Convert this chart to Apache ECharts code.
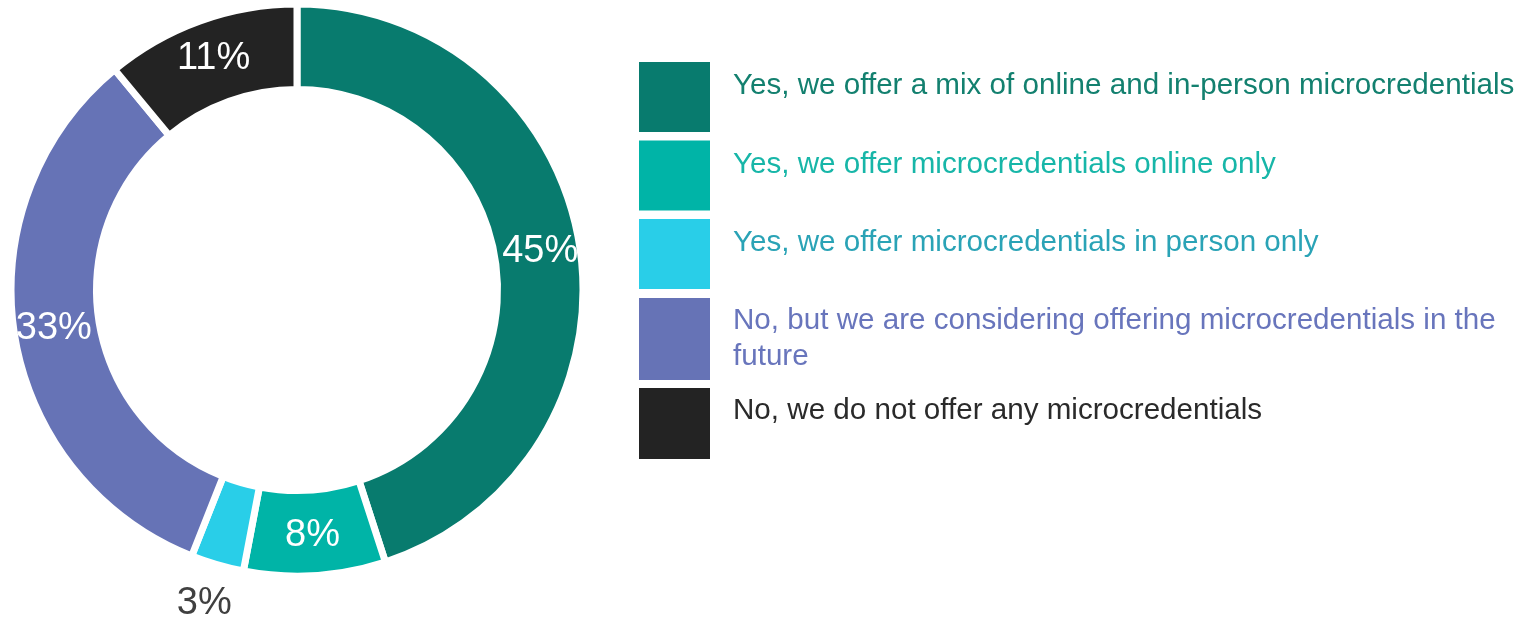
<!DOCTYPE html>
<html>
<head>
<meta charset="utf-8">
<style>
  html, body { margin: 0; padding: 0; background: #ffffff; }
  #chart { width: 1539px; height: 617px; }
</style>
<script src="https://cdn.jsdelivr.net/npm/echarts@6/dist/echarts.min.js"></script>
</head>
<body>
<div id="chart"></div>
<script>
const categories = [
  "Yes, we offer a mix of online and in-person microcredentials",
  "Yes, we offer microcredentials online only",
  "Yes, we offer microcredentials in person only",
  "No, but we are considering offering microcredentials in the future",
  "No, we do not offer any microcredentials"
];
const values = [45, 8, 3, 33, 11];
const sliceColors = ["#087b6e", "#00b4a7", "#29cee8", "#6673b6", "#232323"];
const textColors = ["#13806f", "#17b6a8", "#2aa3b6", "#6875bc", "#2a2a2a"];

const chart = echarts.init(document.getElementById('chart'));
const FONT = "'Liberation Sans', Arial, sans-serif";

function legendItems(idxs, lineH) {
  return idxs.map(i => ({
    name: categories[i],
    itemStyle: { color: sliceColors[i], borderWidth: 0 },
    textStyle: {
      color: textColors[i], fontSize: 29.6, fontFamily: FONT, lineHeight: lineH,
      padding: [0, 0, 0, 18]
    }
  }));
}

const baseLegend = {
  left: 639, orient: 'vertical', padding: 0, icon: 'rect',
  itemWidth: 71, selectedMode: false
};
// single-line entries sit in the upper part of their box: add an empty second line
const raise = name => name + '\n ';

const option = {
  backgroundColor: '#ffffff',
  animation: false,
  legend: [
    Object.assign({}, baseLegend, { top: 62, itemHeight: 70, itemGap: 8.5,
      data: legendItems([0, 1, 2], 22), formatter: raise }),
    Object.assign({}, baseLegend, { top: 298, itemHeight: 82, data: legendItems([3], 36),
      textStyle: { width: 800, overflow: 'break' } }),
    Object.assign({}, baseLegend, { top: 388, itemHeight: 71,
      data: legendItems([4], 25), formatter: raise })
  ],
  series: [{
    type: 'pie',
    center: [297, 290],
    radius: [200.5, 286],
    startAngle: 90,
    clockwise: true,
    avoidLabelOverlap: false,
    itemStyle: { borderColor: '#ffffff', borderWidth: 7 },
    label: {
      show: true, position: 'inside', formatter: '{c}%',
      color: '#ffffff', fontSize: 38, fontFamily: FONT
    },
    labelLine: { show: false },
    emphasis: { disabled: true },
    data: categories.map((name, i) => {
      const d = { name: name, value: values[i], itemStyle: { color: sliceColors[i] } };
      if (values[i] === 3) {
        d.label = { color: '#404040', offset: [-24, 77] };
      }
      return d;
    })
  }]
};
chart.setOption(option);
</script>
</body>
</html>
